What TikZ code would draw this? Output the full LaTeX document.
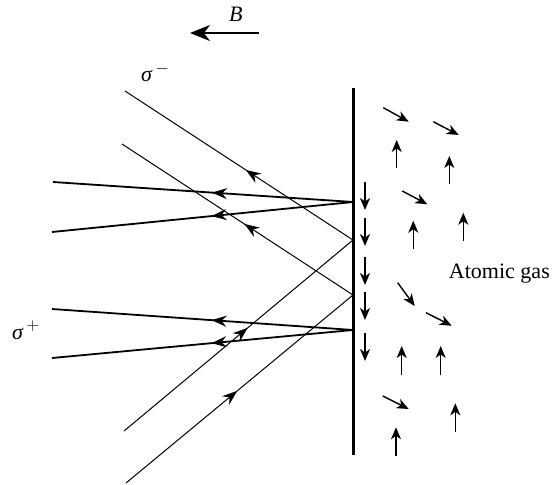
\documentclass[tikz,border=0pt]{standalone}
\usepackage{fontspec}
\setmainfont{Liberation Serif}
\usepackage{tikz}
\usetikzlibrary{arrows.meta, decorations.markings}

\begin{document}
\begin{tikzpicture}[x=1pt, y=-1pt,
    wall/.style={line width=3pt},
    thickray/.style={line width=1.8pt},
    thinray/.style={line width=1pt},
    spin/.style={line width=1.4pt, -{Stealth[length=12pt, width=10pt, inset=3.5pt]}},
    midarrow/.style={postaction={decorate}, decoration={markings,
        mark=at position #1 with {\arrow{Stealth[length=15pt, width=11pt, inset=5pt]}}}},
    lbl/.style={inner sep=0pt, anchor=base west, font=\fontsize{22}{26}\selectfont}]
    \useasboundingbox (0,0) rectangle (556,484);

    % Field B
    \coordinate (Bstart) at (259,33);
    \coordinate (Bend) at (190,33);
    \draw[line width=1.5pt, -{Stealth[length=20pt, width=16pt, inset=6pt]}] (Bstart) -- (Bend);
    \node[lbl] (Blabel) at (229,22) {\textit{B}};

    % Wall
    \coordinate (wtop) at (353,88);
    \coordinate (wbot) at (353,455);
    \draw[wall] (wtop) -- (wbot);

    % Hit points on the wall
    \coordinate (h1) at (353,202);
    \coordinate (h2) at (353,330);
    \coordinate (h3) at (353,240);
    \coordinate (h4) at (353,295);

    % Ray ends
    \coordinate (e1a) at (53,182);
    \coordinate (e1b) at (52,232);
    \coordinate (e2a) at (52,309);
    \coordinate (e2b) at (52,358);
    \coordinate (in3) at (124,431);
    \coordinate (out3) at (125,91);
    \coordinate (in4) at (126,483);
    \coordinate (out4) at (122,144);

    % sigma+ rays (thick)
    \draw[thickray, midarrow=0.47] (h1) -- (e1a);
    \draw[thickray, midarrow=0.47] (h1) -- (e1b);
    \draw[thickray, midarrow=0.47] (h2) -- (e2a);
    \draw[thickray, midarrow=0.47] (h2) -- (e2b);

    % sigma- rays (thin)
    \draw[thinray, midarrow=0.54] (in3) -- (h3);
    \draw[thinray, midarrow=0.47] (h3) -- (out3);
    \draw[thinray, midarrow=0.49] (in4) -- (h4);
    \draw[thinray, midarrow=0.47] (h4) -- (out4);

    % Labels
    \node[lbl] (sminus) at (141,82) {\textit{σ}\raisebox{9pt}{\fontsize{19}{20}\selectfont$\,-$}};
    \node[lbl] (splus) at (12,339) {\textit{σ}\raisebox{9pt}{\fontsize{19}{20}\selectfont$\,+$}};
    \node[lbl, anchor=base east] (gas) at (550,278) {Atomic gas};

    % Spins at the wall
    \foreach \y in {182, 218, 257, 292, 333} {
        \draw[spin] (365,\y) -- (365,\y+28);
    }

    % Spins in the gas
    \foreach \xa/\ya/\xb/\yb in {383.3/107.7/408.7/121.7, 433.3/121.7/458.7/135,
        396.7/168.3/396.7/140, 449.3/184/449.3/156, 402.3/191/427.3/204.3,
        413.3/249/413.3/220.7, 463.3/241/463.3/212.7, 397.7/282.7/414.7/306,
        426/312.7/451.7/325.7, 401.7/375/401.7/346, 440.7/375/440.7/346,
        382.7/396/408.7/409, 455.3/432.3/455.3/403.3, 396/456/396/427.3} {
        \draw[spin] (\xa,\ya) -- (\xb,\yb);
    }

\end{tikzpicture}
\end{document}
